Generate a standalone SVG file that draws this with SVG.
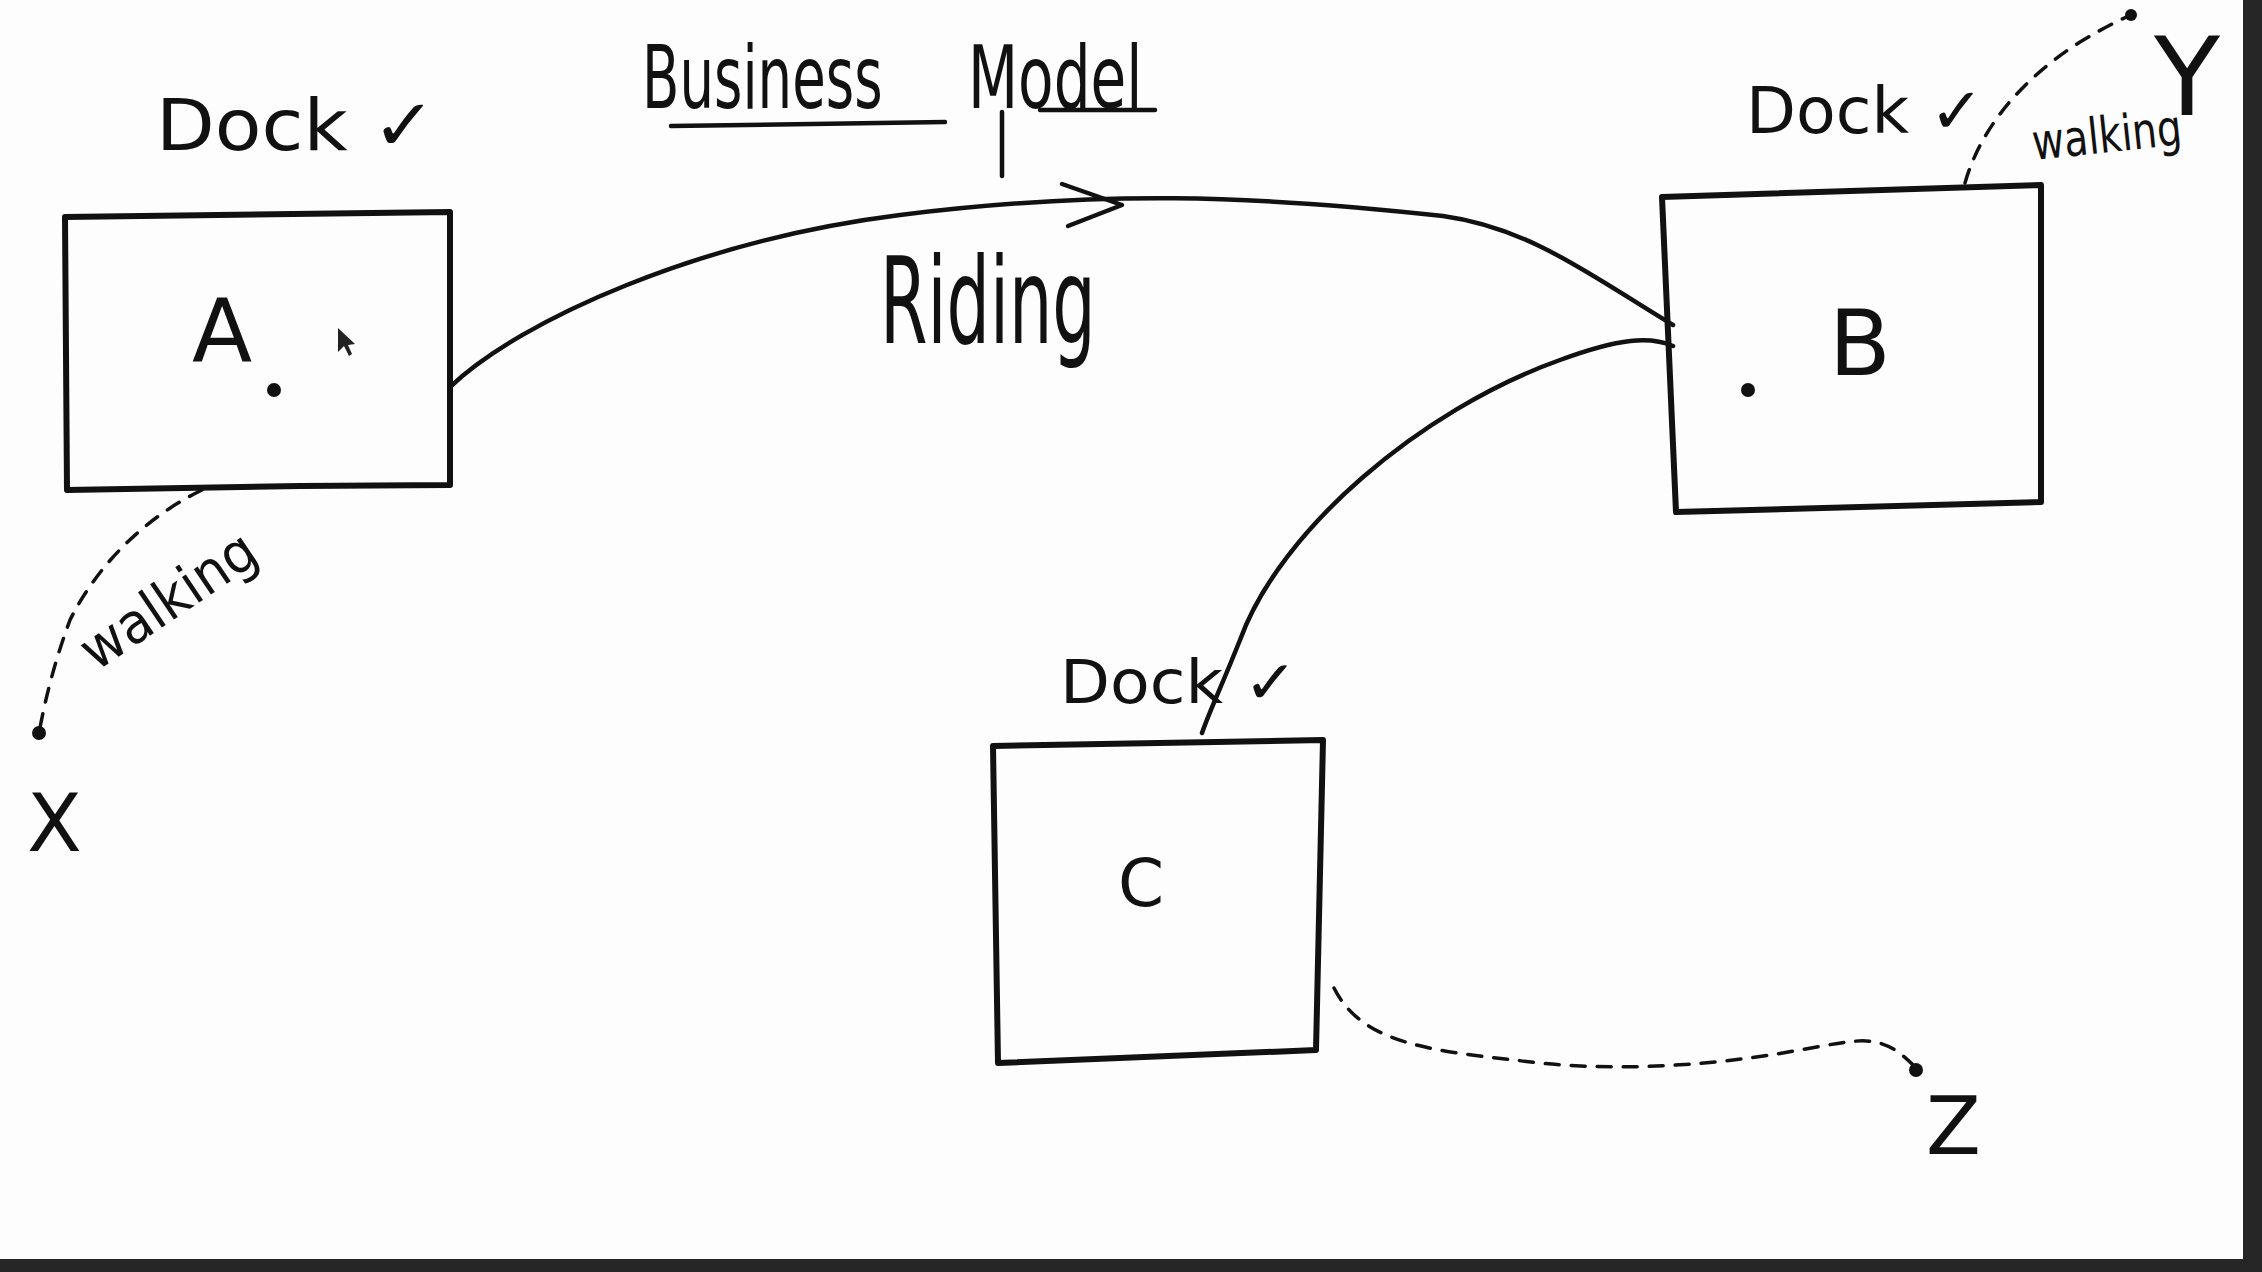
<svg xmlns="http://www.w3.org/2000/svg" width="2262" height="1272" viewBox="0 0 2262 1272">
<style>
.ink{fill:none;stroke:#111;stroke-linecap:round;stroke-linejoin:round}
.box{stroke-width:6}
.line{stroke-width:4.5}
.dash{stroke-width:3.5;stroke-dasharray:14 12}
.t{font-family:"DejaVu Sans","Liberation Sans",sans-serif;fill:#111}
.dot{fill:#111}
</style>
<rect width="2262" height="1272" fill="#fdfdfd"/>
<g id="title">
<text class="t" font-size="88" transform="translate(642,108) scale(0.62,1)">Business</text>
<text class="t" font-size="88" transform="translate(968,108) scale(0.66,1)">Model</text>
<path class="ink line" d="M671,126 L945,122 M1040,110 L1155,110 M1002,112 L1002,176"/>
</g>
<g id="node-A">
<path class="ink box" d="M65,217 L450,212 L450,485 L300,486 L67,490 Z"/>
<text class="t" x="192" y="361" font-size="88">A</text>
<circle class="dot" cx="274" cy="390" r="7"/>
<path d="M338,328 L338,352 L344,346 L349,356 L352,354 L348,345 L355,344 Z" fill="#222"/>
<text class="t" x="156" y="150" font-size="72" textLength="280" lengthAdjust="spacingAndGlyphs">Dock ✓</text>
</g>
<g id="node-B">
<path class="ink box" d="M1662,197 L2041,185 L2041,502 L1676,512 Z"/>
<text class="t" x="1829" y="375" font-size="90">B</text>
<circle class="dot" cx="1748" cy="390" r="7"/>
<text class="t" x="1746" y="133" font-size="64" textLength="238" lengthAdjust="spacingAndGlyphs">Dock ✓</text>
</g>
<g id="node-C">
<path class="ink box" d="M993,746 L1323,740 L1316,1050 L998,1063 Z"/>
<text class="t" x="1118" y="906" font-size="66">C</text>
<text class="t" x="1060" y="703" font-size="60" textLength="238" lengthAdjust="spacingAndGlyphs">Dock ✓</text>
</g>
<g id="point-X">
<circle class="dot" cx="39" cy="733" r="7"/>
<text class="t" x="27" y="851" font-size="80">X</text>
</g>
<g id="point-Y">
<circle class="dot" cx="2131" cy="15" r="6"/>
<text class="t" x="2154" y="115" font-size="108">Y</text>
</g>
<g id="point-Z">
<circle class="dot" cx="1916" cy="1070" r="7"/>
<text class="t" x="1926" y="1154" font-size="80">Z</text>
</g>
<g id="connectors">
<path class="ink line" d="M450,387 C520,320 700,240 900,215 S1250,195 1443,216 C1530,228 1590,275 1673,325"/>
<path class="ink line" d="M1062,184 L1122,205 L1068,226"/>
<text class="t" font-size="120" transform="translate(880,343) scale(0.57,1)">Riding</text>
<path class="ink line" d="M1673,346 C1650,336 1620,338 1560,360 C1420,410 1280,530 1240,640 C1220,690 1210,710 1202,733"/>
<path class="ink dash" d="M202,490 C150,515 100,560 70,620 C55,660 45,700 39,733"/>
<text class="t" font-size="56" textLength="200" lengthAdjust="spacingAndGlyphs" transform="translate(96,672) rotate(-34)">walking</text>
<path class="ink dash" d="M1965,183 C1980,130 2020,80 2080,42 C2100,30 2115,22 2131,15"/>
<text class="t" font-size="50" textLength="150" lengthAdjust="spacingAndGlyphs" transform="translate(2034,160) rotate(-6)">walking</text>
<path class="ink dash" d="M1334,988 C1360,1040 1420,1050 1515,1060 C1600,1072 1700,1068 1800,1050 C1860,1040 1880,1030 1916,1068"/>
</g>
<rect x="2243" y="0" width="19" height="1272" fill="#262626"/>
<rect x="0" y="1259" width="2262" height="13" fill="#262626"/>
</svg>
